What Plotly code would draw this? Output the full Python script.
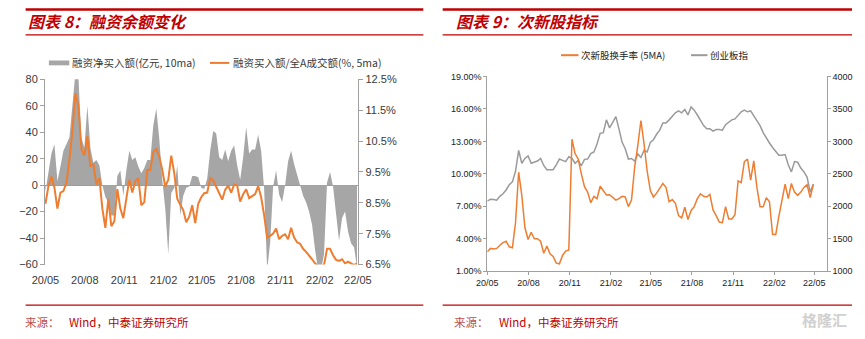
import pandas as pd
import plotly.graph_objects as go

W, H = 865, 339

# ---------------- data ----------------
dates = [d.strftime("%Y-%m-%d") for d in pd.date_range("2020-05-01", periods=105, freq="7D")]

# 融资净买入额(亿元, 10ma)
fin_net = [
    -5, 11, 24, 31, 3, 14, 26, 31, 36, 60,
    85, 82, 36, 28, 60, 28, 17, 19, 15, 0,
    -9, -13, -23, -23, 7, 11, -8, 11, 26, 19,
    21, 14, 9, 13, 19, 19, 45, 58, 35, 4,
    -18, -52, -6, -2, 15, -23, -8, -2, -1, 7,
    7, 6, -2, -3, 5, 26, 41, 39, 21, 19,
    27, 18, 26, 30, 15, 4, 21, 44, 24, 27,
    27, 38, 26, -3, -64, -44, -1, 11, -7, -13,
    0, 18, 26, 16, 7, 0, -8, -13, -20, -30,
    -49, -64, -64, -52, 2, 10, -1, -20, -42, -25,
    -20, -35, -44, -47, -62,
]

# 融资买入额/全A成交额(%, 5ma)
fin_ratio = [
    8.47, 9.04, 9.35, 8.99, 8.31, 8.83, 8.88, 9.15, 9.90, 10.81,
    12.05, 11.65, 10.24, 10.03, 10.66, 9.67, 9.77, 9.09, 9.30, 8.31,
    7.69, 8.63, 7.74, 7.90, 8.94, 8.31, 8.00, 8.63, 9.25, 8.83,
    9.20, 9.30, 8.42, 8.52, 9.56, 9.56, 10.14, 10.24, 10.00, 9.56,
    9.02, 9.25, 10.03, 9.46, 8.63, 8.44, 8.26, 7.87, 8.05, 8.42,
    7.84, 8.47, 8.68, 8.81, 8.83, 9.30, 9.23, 9.02, 8.83, 8.60,
    8.92, 9.06, 8.83, 9.09, 9.06, 8.54, 8.78, 8.94, 8.65, 8.71,
    8.78, 9.04, 8.68, 8.10, 7.37, 7.43, 7.50, 7.67, 7.32, 7.43,
    7.48, 7.32, 7.69, 7.37, 7.22, 7.17, 7.01, 6.91, 6.80, 6.67,
    6.54, 6.44, 6.44, 6.49, 7.01, 7.01, 6.80, 6.65, 6.62, 6.67,
    6.54, 6.59, 6.54, 6.48, 6.54,
]

# 次新股换手率 (5MA), %
turnover = [
    2.81, 3.11, 3.05, 3.11, 3.41, 3.65, 3.77, 3.26, 3.17, 5.49,
    10.15, 8.01, 5.04, 3.94, 4.60, 4.00, 4.00, 3.77, 2.67, 3.32,
    2.61, 2.37, 1.75, 1.69, 2.46, 2.87, 2.96, 13.20, 11.87, 11.37,
    10.00, 8.81, 8.31, 7.33, 7.92, 7.71, 8.85, 8.40, 8.04, 8.07,
    7.86, 7.57, 7.71, 7.92, 7.86, 6.97, 7.57, 10.60, 12.61, 14.93,
    12.76, 10.24, 8.46, 7.86, 8.22, 8.61, 9.11, 8.75, 7.42, 7.62,
    7.27, 6.14, 5.93, 6.91, 5.78, 6.62, 6.97, 7.71, 8.16, 7.92,
    7.86, 8.10, 6.67, 6.14, 5.55, 5.49, 6.97, 5.84, 5.84, 6.23,
    9.35, 9.20, 11.13, 11.37, 9.41, 11.19, 8.75, 6.97, 6.97, 7.80,
    7.42, 4.42, 4.39, 6.08, 7.57, 9.05, 7.71, 9.11, 8.31, 8.01,
    8.31, 8.75, 9.00, 7.80, 9.00,
]

# 创业板指
cyb = [
    2079, 2109, 2104, 2094, 2153, 2193, 2252, 2332, 2376, 2540,
    2861, 2663, 2737, 2777, 2663, 2678, 2698, 2737, 2629, 2564,
    2559, 2564, 2639, 2728, 2708, 2688, 2762, 2737, 2663, 2708,
    2624, 2723, 2728, 2812, 2837, 2960, 3124, 3133, 3331, 3208,
    3292, 3381, 3193, 2985, 2886, 2728, 2737, 2698, 2807, 2752,
    2861, 2836, 2985, 3025, 3109, 3173, 3282, 3282, 3331, 3391,
    3440, 3470, 3440, 3490, 3406, 3530, 3480, 3406, 3331, 3242,
    3193, 3193, 3158, 3183, 3183, 3173, 3257, 3297, 3331, 3346,
    3406, 3455, 3480, 3455, 3470, 3391, 3307, 3242, 3134, 3044,
    2975, 2906, 2846, 2787, 2787, 2797, 2639, 2530, 2688, 2678,
    2589, 2530, 2450, 2218, 2342,
]

x_tick_dates = ["2020-05-01", "2020-08-01", "2020-11-01", "2021-02-01", "2021-05-01",
                "2021-08-01", "2021-11-01", "2022-02-01", "2022-05-01"]
left_y_ticks = [-60, -40, -20, 0, 20, 40, 60, 80]
left_y2_ticks = [6.5, 7.5, 8.5, 9.5, 10.5, 11.5, 12.5]
left_y2_labels = ["6.5%", "7.5%", "8.5%", "9.5%", "10.5%", "11.5%", "12.5%"]
right_y_ticks = [1, 4, 7, 10, 13, 16, 19]
right_y_labels = ["1.00%", "4.00%", "7.00%", "10.00%", "13.00%", "16.00%", "19.00%"]
right_y2_ticks = [1000, 1500, 2000, 2500, 3000, 3500, 4000]

# ---------------- helpers ----------------
def px(x):
    return x / W

def py(y):
    return 1 - y / H

RED = "#c00000"
ORANGE = "#ED7D31"
GREY_AREA = "#a6a6a6"
GREY_LINE = "#9a9a9a"
AXIS = "#a0a0a0"
TXT = "#3a3a3a"
NUMFONT = "Liberation Sans, Arial, sans-serif"
NARROW = "Liberation Sans Narrow, Arial Narrow, Liberation Sans, sans-serif"
CJK = "Noto Sans CJK SC, sans-serif"

fig = go.Figure()

# left chart
fig.add_trace(go.Scatter(x=dates, y=fin_net, mode="lines", fill="tozeroy",
                         fillcolor=GREY_AREA, line=dict(width=0, color=GREY_AREA),
                         xaxis="x", yaxis="y", showlegend=False, hoverinfo="skip"))
fig.add_trace(go.Scatter(x=dates, y=fin_ratio, mode="lines",
                         line=dict(width=2, color=ORANGE),
                         xaxis="x", yaxis="y2", showlegend=False))
# right chart
fig.add_trace(go.Scatter(x=dates, y=cyb, mode="lines",
                         line=dict(width=1.5, color=GREY_LINE),
                         xaxis="x2", yaxis="y3", showlegend=False))
fig.add_trace(go.Scatter(x=dates, y=turnover, mode="lines",
                         line=dict(width=1.5, color=ORANGE),
                         xaxis="x2", yaxis="y4", showlegend=False))

ldom_y = [py(268), py(76)]
rdom_y = [py(275), py(73)]

fig.update_layout(
    width=W, height=H, margin=dict(l=0, r=0, t=0, b=0),
    paper_bgcolor="white", plot_bgcolor="white",
    xaxis=dict(domain=[px(33), px(356)], range=["2020-04-30", "2022-05-02"],
               type="date", tickvals=x_tick_dates,
               tickformat="%y/%m", showline=False, ticks="outside", ticklen=5,
               tickcolor="rgba(0,0,0,0)", showgrid=False, zeroline=False,
               tickfont=dict(family=NUMFONT, size=11, color=TXT), anchor="y"),
    yaxis=dict(domain=ldom_y, range=[-60, 80], tickvals=left_y_ticks,
               showline=True, linecolor=AXIS, linewidth=1, ticks="outside", ticklen=4,
               tickcolor=AXIS, showgrid=False, zeroline=True, zerolinecolor="#999999",
               zerolinewidth=1.2, tickfont=dict(family=NUMFONT, size=11, color=TXT),
               anchor="x"),
    yaxis2=dict(range=[6.5, 12.5], tickvals=left_y2_ticks, ticktext=left_y2_labels,
                overlaying="y", side="right", anchor="x",
                showline=True, linecolor=AXIS, ticks="outside", ticklen=4, tickcolor=AXIS,
                showgrid=False, zeroline=False,
                tickfont=dict(family=NUMFONT, size=11, color=TXT)),
    xaxis2=dict(domain=[px(489), px(839)], range=["2020-05-01", "2022-05-29"], type="date",
                tickvals=x_tick_dates,
                tickformat="%y/%m", showline=True, linecolor=AXIS, ticks="outside",
                ticklen=3, tickcolor=AXIS, showgrid=False, zeroline=False,
                tickfont=dict(family=NARROW, size=9, color="#222222"), anchor="y3"),
    yaxis3=dict(domain=rdom_y, range=[1000, 4000], tickvals=right_y2_ticks, side="right",
                anchor="x2", showline=True, linecolor=AXIS, ticks="outside", ticklen=3,
                tickcolor=AXIS, showgrid=False, zeroline=False,
                tickfont=dict(family=NARROW, size=9, color="#222222")),
    yaxis4=dict(range=[1, 19], tickvals=right_y_ticks, ticktext=right_y_labels,
                overlaying="y3", side="left", anchor="x2", showline=True,
                linecolor=AXIS, ticks="outside", ticklen=3, tickcolor=AXIS,
                showgrid=False, zeroline=False,
                tickfont=dict(family=NARROW, size=9, color="#222222")),
)

shapes = []
annos = []

def hline(x0, x1, y, w, color=RED):
    shapes.append(dict(type="line", xref="paper", yref="paper", x0=px(x0), x1=px(x1),
                       y0=py(y), y1=py(y), line=dict(color=color, width=w)))

def text(x, y, s, size, color=TXT, family=CJK, anchor="left", weight=None, style=None):
    f = dict(family=family, size=size, color=color)
    if weight:
        f["weight"] = weight
    if style:
        f["style"] = style
    annos.append(dict(x=px(x), y=py(y), xref="paper", yref="paper", text=s,
                      showarrow=False, xanchor=anchor, yanchor="middle", font=f))

# header / footer rules
for (a, b) in [(13, 423), (443, 865)]:
    hline(a, b, 3.5, 2.5)
    hline(a, b, 30, 1.2)
    hline(a, b, 310, 1.2)

# titles
text(13, 16, "图表 8：融资余额变化", 16, RED, weight="bold", style="italic")
text(455, 16, "图表 9：次新股指标", 16, RED, weight="bold", style="italic")

# footers
text(10, 328, "来源：", 11.5, "#c0504d")
text(56, 328, "Wind，中泰证券研究所", 11.5, RED)
text(453, 328, "来源：", 11.5, "#c0504d")
text(499, 328, "Wind，中泰证券研究所", 11.5, RED)
text(862, 325, "格隆汇", 15, "#d0d0d0", anchor="right", weight="bold")

# legends
shapes.append(dict(type="rect", xref="paper", yref="paper", x0=px(37), x1=px(58),
                   y0=py(61.5), y1=py(56.5), fillcolor=GREY_AREA, line=dict(width=0)))
text(59, 59, "融资净买入额(亿元, 10ma)", 10.5, TXT)
hline(203, 223, 59, 2, ORANGE)
text(225, 59, "融资买入额/全A成交额(%, 5ma)", 10.5, TXT)

hline(565, 583, 51, 2, ORANGE)
text(584, 51, "次新股换手率 (5MA)", 9.5, "#222222")
hline(699, 716, 51, 2, GREY_LINE)
text(717, 51, "创业板指", 9.5, "#222222")

fig.update_layout(shapes=shapes, annotations=annos)

fig.write_html("out.html")
